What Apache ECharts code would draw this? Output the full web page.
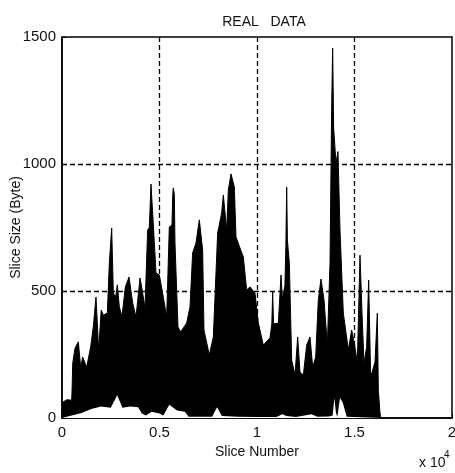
<!DOCTYPE html>
<html>
<head>
<meta charset="utf-8">
<style>html,body{margin:0;padding:0;background:#fff}#c{width:455px;height:473px}</style>
<script src="https://cdn.jsdelivr.net/npm/echarts@6/dist/echarts.min.js"></script>
</head>
<body>
<div id="c"></div>
<script>
const titleText = 'REAL   DATA';
const xName = 'Slice Number';
const yName = 'Slice Size (Byte)';
const upperSlices = [0,250,497,520,550,667,838,957,1060,1265,1470,1607,1743,1880,2010,2120,2325,2428,2548,2633,2750,2838,2940,3077,3248,3436,3624,3795,4000,4085,4256,4392,4478,4563,4650,4820,4990,5195,5367,5503,5640,5680,5708,5760,5794,5948,6085,6393,6564,6700,6871,7042,7213,7281,7555,7760,7982,8187,8273,8444,8530,8667,8838,8923,9128,9299,9470,9640,9897,10068,10325,10666,10760,10803,10850,11094,11231,11300,11430,11480,11522,11560,11658,11778,11950,12086,12205,12376,12547,12718,12855,13009,13145,13282,13436,13607,13744,13829,13880,13931,14051,14153,14256,14427,14683,14854,15025,15145,15282,15385,15487,15623,15726,15829,16051,16171,16222,16308,16350];
const upperBytes = [60,72,70,120,216,275,300,200,240,200,280,360,476,268,425,405,413,610,748,492,476,524,437,400,516,555,453,398,551,516,433,740,750,921,807,571,563,476,398,752,760,880,906,880,689,358,339,374,437,650,689,780,661,346,248,319,728,807,878,740,898,961,909,713,669,634,504,516,492,374,287,315,370,496,370,374,563,470,520,680,909,700,610,228,169,319,181,169,287,319,200,240,465,547,465,287,610,1226,1456,1141,1004,1049,740,413,268,346,280,216,641,413,216,280,543,161,220,413,110,20,0];
const lowerSlices = [0,600,1000,1500,2000,2500,2830,3100,3500,3900,4100,4300,4600,5000,5200,5500,5900,6300,6500,7000,7700,7950,8200,9000,10000,11000,11300,11500,12000,12800,13100,13700,13880,13966,14050,14120,14256,14400,14600,16350];
const lowerBytes = [0,12,20,35,45,40,90,40,45,42,18,10,25,18,10,52,30,25,5,5,5,42,8,5,4,4,15,8,4,15,5,6,10,79,20,5,79,60,5,0];
const xTicks = [0,5000,10000,15000,20000];

const pair = (xs, ys) => xs.map((x, i) => [x, ys[i]]);
const chart = echarts.init(document.getElementById('c'), null, {renderer:'canvas'});
const font = '"Liberation Sans", Arial, sans-serif';
chart.setOption({
  animation:false,
  backgroundColor:'#fff',
  title:{text:titleText,left:259,top:10,textAlign:'center',
    textStyle:{fontFamily:font,fontSize:14,fontWeight:'normal',color:'#111'}},
  grid:{left:62,right:3,top:37,bottom:55,outerBoundsMode:'none',containLabel:false,show:true,borderColor:'#000',borderWidth:1.5,backgroundColor:'#fff'},
  xAxis:{type:'value',min:0,max:20000,interval:5000,name:xName,nameLocation:'middle',nameGap:27,
    nameTextStyle:{fontFamily:font,fontSize:14,color:'#111'},
    axisLine:{show:true,lineStyle:{color:'#000',width:1.5}},
    axisTick:{inside:true,length:4,lineStyle:{color:'#000'}},
    axisLabel:{fontFamily:font,fontSize:15,color:'#111',margin:7,showMaxLabel:true,
      formatter:v=>xTicks.includes(v)?String(v/10000):''},
    splitLine:{show:true,showMinLine:false,showMaxLine:false,lineStyle:{color:'#000',type:[5,3],width:1.3}}},
  yAxis:{type:'value',min:0,max:1500,interval:500,name:yName,nameLocation:'middle',nameGap:39,nameMoveOverlap:false,
    nameTextStyle:{fontFamily:font,fontSize:14,color:'#111'},
    axisLine:{show:true,lineStyle:{color:'#000',width:1.5}},
    axisTick:{inside:true,length:4,lineStyle:{color:'#000'}},
    axisLabel:{fontFamily:font,fontSize:15,color:'#111',margin:6,formatter:v=>String(v)},
    splitLine:{show:true,showMinLine:false,showMaxLine:false,lineStyle:{color:'#000',type:[5,3],width:1.3}}},
  series:[
    {name:'upper',type:'line',z:2,symbol:'none',smooth:false,sampling:null,data:pair(upperSlices,upperBytes),
      lineStyle:{color:'#000',width:1},areaStyle:{color:'#000',opacity:1}},
    {name:'lower',type:'line',z:3,symbol:'none',smooth:false,data:pair(lowerSlices,lowerBytes),
      lineStyle:{color:'#fff',width:0},areaStyle:{color:'#fff',opacity:1}}
  ],
  graphic:[
    {type:'text',left:419,top:456,style:{text:'x 10',font:'14px '+font,fill:'#111'}},
    {type:'text',left:444,top:450,style:{text:'4',font:'10px '+font,fill:'#111'}}
  ]
});
</script>
</body>
</html>
